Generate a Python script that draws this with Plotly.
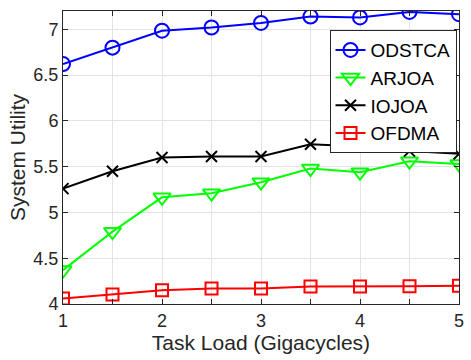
import plotly.graph_objects as go

task_load = [1, 1.5, 2, 2.5, 3, 3.5, 4, 4.5, 5]
odstca = [6.62, 6.80, 6.985, 7.02, 7.07, 7.14, 7.13, 7.19, 7.165]
arjoa = [4.37, 4.79, 5.165, 5.21, 5.33, 5.48, 5.44, 5.56, 5.53]
iojoa = [5.26, 5.45, 5.60, 5.61, 5.61, 5.745, 5.72, 5.67, 5.64]
ofdma = [4.06, 4.105, 4.15, 4.17, 4.17, 4.19, 4.19, 4.195, 4.2]

x_ticks = [1, 1.5, 2, 2.5, 3, 3.5, 4, 4.5, 5]
x_ticktext = ["1", "", "2", "", "3", "", "4", "", "5"]
y_ticks = [4, 4.5, 5, 5.5, 6, 6.5, 7]
y_ticktext = ["4", "4.5", "5", "5.5", "6", "6.5", "7"]

fig = go.Figure()
fig.add_trace(go.Scatter(x=task_load, y=odstca, name="ODSTCA", mode="lines+markers",
                         line=dict(color="#0000ff", width=2),
                         marker=dict(symbol="circle-open", size=14, line=dict(width=2, color="#0000ff"))))
fig.add_trace(go.Scatter(x=task_load, y=arjoa, name="ARJOA", mode="lines+markers",
                         line=dict(color="#00ff00", width=2),
                         marker=dict(symbol="triangle-down-open", size=15, line=dict(width=2, color="#00ff00"))))
fig.add_trace(go.Scatter(x=task_load, y=iojoa, name="IOJOA", mode="lines+markers",
                         line=dict(color="#000000", width=2),
                         marker=dict(symbol="x-thin-open", size=11, line=dict(width=2, color="#000000"))))
fig.add_trace(go.Scatter(x=task_load, y=ofdma, name="OFDMA", mode="lines+markers",
                         line=dict(color="#ff0000", width=2),
                         marker=dict(symbol="square-open", size=12, line=dict(width=2, color="#ff0000"))))

axis_common = dict(showline=True, linecolor="#262626", linewidth=1, mirror="ticks",
                   ticks="inside", ticklen=5, tickcolor="#262626",
                   showgrid=True, gridcolor="#e3e3e3", gridwidth=1, zeroline=False,
                   ticklabeloverflow="allow",
                   tickfont=dict(size=18, color="#262626"))

fig.update_layout(
    width=471, height=360,
    margin=dict(l=63, r=7, t=11, b=56),
    paper_bgcolor="white", plot_bgcolor="white",
    font=dict(family="Liberation Sans, Arial, sans-serif", color="#262626"),
    xaxis=dict(range=[1, 5], tickvals=x_ticks, ticktext=x_ticktext,
               title=dict(text="Task Load (Gigacycles)", font=dict(size=21), standoff=0), **axis_common),
    yaxis=dict(range=[4, 7.2], tickvals=y_ticks, ticktext=y_ticktext,
               title=dict(text="System Utility", font=dict(size=21), standoff=2), **axis_common),
    legend=dict(x=0.673, y=0.935, xanchor="left", yanchor="top",
                bordercolor="#262626", borderwidth=1, bgcolor="white",
                font=dict(size=19, color="#000000"), tracegroupgap=0, itemwidth=30),
    showlegend=True,
)

fig.write_html("out.html", config={"displayModeBar": False},
               post_script="document.body.style.margin='0';document.body.style.overflow='hidden';")
